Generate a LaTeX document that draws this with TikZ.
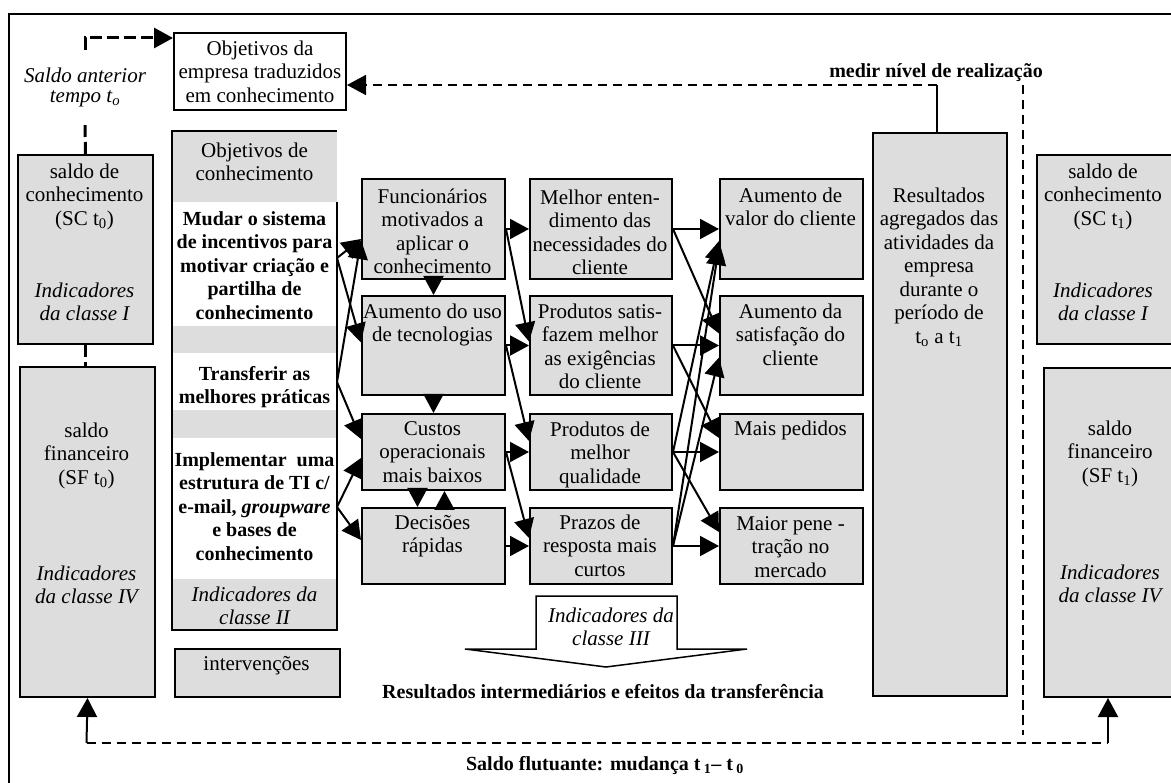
\documentclass[tikz,border=0pt]{standalone}
\usepackage{fontspec}
\setmainfont{Liberation Serif}
\usetikzlibrary{arrows.meta}
\definecolor{boxgray}{RGB}{221,221,221}
\newcommand\rg{\fontsize{21}{23.5}\selectfont}
\newcommand\bd{\fontsize{20}{23.5}\selectfont\bfseries}
\newcommand\itl{\fontsize{21}{23.5}\selectfont\itshape}

\begin{document}
\begin{tikzpicture}[x=1pt,y=-1pt,
  gbox/.style={draw, line width=2pt, fill=boxgray, anchor=north west, inner sep=0pt},
  txt/.style={anchor=north, inner sep=0pt, align=center, yshift=16.45pt, font=\rg},
  itxt/.style={txt, font=\itl},
  btxt/.style={txt, font=\bd},
  tip/.style={-{Triangle[length=19pt,width=20pt]}},
  conn/.style={line width=2pt, tip},
  dsh/.style={line width=1.6pt, dash pattern=on 9.5pt off 5.5pt},
  dthick/.style={line width=3pt, dash pattern=on 12pt off 5pt},
]
\useasboundingbox (0,0) rectangle (1171,783);
\clip (0,0) rectangle (1171,783);
\fill[white] (0,0) rectangle (1171,783);

% outer frame
\draw[line width=2pt] (9,14) rectangle (1200,820);

% goals of the company
\node[draw, line width=2pt, fill=white, anchor=north west, inner sep=0pt,
      minimum width=172pt, minimum height=77pt, align=center, font=\rg]
      (Top) at (173,32) {Objetivos da\\empresa traduzidos\\em conhecimento};

% left balances
\node[gbox, minimum width=135pt, minimum height=189pt] (SCL) at (17,154) {};
\node[txt] at (84.5,178) {\strut saldo de\\conhecimento\\(SC t\textsubscript{0})};
\node[itxt] at (84.5,297) {\strut Indicadores\\da classe I};
\node[gbox, minimum width=135pt, minimum height=330pt] (SFL) at (19,366) {};
\node[txt] at (86.5,437) {\strut saldo\\financeiro\\(SF t\textsubscript{0})};
\node[itxt] at (86.5,580) {\strut Indicadores\\da classe IV};

% previous balance label and link to the goals
\node[font=\fontsize{21}{19.5}\selectfont\itshape, align=center, inner sep=0pt,
      minimum height=75pt] (sa) at (85,87.5) {Saldo anterior\\tempo t\textsubscript{o}};
\draw[dthick] (SCL.north) -- (sa.south);
\draw[dthick, tip] (sa.north) |- ([yshift=-6pt]Top.north west);
\draw[dthick] (SCL.south) -- (SCL.south |- SFL.north);

% knowledge goals column
\fill[boxgray] (172,131) rectangle (337,202);
\fill[boxgray] (172,326) rectangle (337,353);
\fill[boxgray] (172,410) rectangle (337,438);
\fill[boxgray] (172,579) rectangle (337,630);
\node[anchor=north west, inner sep=0pt, minimum width=165pt, minimum height=499pt] (Obj) at (172,131) {};
\draw[line width=2pt] (Obj.north east |- 0,202) -- (Obj.south east) -- (Obj.south west)
      -- (Obj.north west) -- (Obj.north east);
\node[txt] at (254.5,157) {\strut Objetivos de\\conhecimento};
\node[btxt] at (254.5,225) {\strut Mudar o sistema\\de incentivos para\\motivar criação e\\partilha de\\conhecimento};
\node[btxt] at (254.5,380) {\strut Transferir as\\melhores práticas};
\node[btxt] at (254.5,466) {\strut Implementar\ \ uma\\estrutura de TI c/\\e-mail, \textit{groupware}\\e bases de\\conhecimento};
\node[itxt] at (254.5,601) {\strut Indicadores da\\classe II};
\coordinate (o1) at (337,258);
\coordinate (o2) at (337,382);
\coordinate (o3) at (337,507);

\node[gbox, minimum width=165pt, minimum height=48pt] (Int) at (174,648) {};
\node[txt] at (256.5,670) {\strut intervenções};

% first column of effects
\node[gbox, minimum width=143pt, minimum height=100pt] (F) at (361,178) {};
\node[gbox, minimum width=143pt, minimum height=99pt]  (A) at (361,295) {};
\node[gbox, minimum width=143pt, minimum height=76pt]  (C) at (361,413) {};
\node[gbox, minimum width=143pt, minimum height=76pt]  (D) at (361,507) {};
\node[txt] at (432.5,203) {\strut Funcionários\\motivados a\\aplicar o\\conhecimento};
\node[txt] at (432.5,318) {\strut Aumento do uso\\de tecnologias};
\node[txt] at (432.5,435) {\strut Custos\\operacionais\\mais baixos};
\node[txt] at (432.5,529) {\strut Decisões\\rápidas};

% second column of effects
\node[gbox, minimum width=142pt, minimum height=100pt] (M)  at (529,178) {};
\node[gbox, minimum width=142pt, minimum height=99pt]  (P)  at (529,295) {};
\node[gbox, minimum width=142pt, minimum height=76pt]  (Q)  at (529,413) {};
\node[gbox, minimum width=142pt, minimum height=76pt]  (Pr) at (529,507) {};
\node[txt] at (600,204) {\strut Melhor enten-\\dimento das\\necessidades do\\cliente};
\node[txt] at (600,318) {\strut Produtos satis-\\fazem melhor\\as exigências\\do cliente};
\node[txt] at (600,436) {\strut Produtos de\\melhor\\qualidade};
\node[txt] at (600,529) {\strut Prazos de\\resposta mais\\curtos};

% third column of effects
\node[gbox, minimum width=143pt, minimum height=100pt] (V)   at (719,178) {};
\node[gbox, minimum width=143pt, minimum height=99pt]  (S)   at (719,295) {};
\node[gbox, minimum width=143pt, minimum height=76pt]  (MP)  at (719,413) {};
\node[gbox, minimum width=143pt, minimum height=76pt]  (Pen) at (719,507) {};
\node[txt] at (790.5,202) {\strut Aumento de\\valor do cliente};
\node[txt] at (790.5,318) {\strut Aumento da\\satisfação do\\cliente};
\node[txt] at (790.5,435) {\strut Mais pedidos};
\node[txt] at (790.5,530) {\strut Maior pene -\\tração no\\mercado};

% aggregated results
\node[gbox, minimum width=134pt, minimum height=563pt] (Res) at (872,132) {};
\node[txt] at (939,202) {\strut Resultados\\agregados das\\atividades da\\empresa\\durante o\\período de\\t\textsubscript{o} a t\textsubscript{1}};

% right balances
\node[gbox, minimum width=150pt, minimum height=189pt] (SCR) at (1036,154) {};
\node[txt] at (1103,178) {\strut saldo de\\conhecimento\\(SC t\textsubscript{1})};
\node[itxt] at (1103,297) {\strut Indicadores\\da classe I};
\node[gbox, minimum width=150pt, minimum height=329pt] (SFR) at (1043,367) {};
\node[txt] at (1110,435) {\strut saldo\\financeiro\\(SF t\textsubscript{1})};
\node[itxt] at (1110,579) {\strut Indicadores\\da classe IV};

% goals -> first column
\draw[conn] (o1) -- ([yshift=-10pt]F.west);
\draw[conn] (o1) -- ([yshift=3pt]A.west);
\draw[conn] (o2) -- ([yshift=-11pt]F.west);
\draw[conn] (o2) -- ([yshift=13pt]C.west);
\draw[conn] (o3) -- ([yshift=-6pt]C.west);
\draw[conn] (o3) -- ([yshift=6pt]D.west);

% within the first column
\draw[conn] (F.south) -- (A.north);
\draw[conn] (A.south) -- (C.north);
\draw[conn] ([xshift=-16pt]C.south) -- ([xshift=-16pt]D.north);
\draw[conn] ([xshift=11pt]D.north) -- ([xshift=11pt]C.south);

% first -> second column
\draw[conn] (F.east) -- (M.west);
\draw[conn] (F.east) -- ([yshift=4pt]P.west);
\draw[conn] (A.east) -- (P.west);
\draw[conn] (A.east) -- ([yshift=11pt]Q.west);
\draw[conn] (C.east) -- (Q.west);
\draw[conn] (C.east) -- ([yshift=8pt]Pr.west);
\draw[conn] (D.east) -- (Pr.west);

% second -> third column
\draw[conn] (M.east) -- (V.west);
\draw[conn] (M.east) -- ([yshift=12pt]S.west);
\draw[conn] (P.east) -- (S.west);
\draw[conn] (P.east) -- ([yshift=14pt]MP.west);
\draw[conn] (Q.east) -- (MP.west);
\draw[conn] (Q.east) -- ([yshift=-12pt]V.west);
\draw[conn] (Q.east) -- ([yshift=14pt]Pen.west);
\draw[conn] (Pr.east) -- (Pen.west);
\draw[conn] (Pr.east) -- ([yshift=-17pt]V.west);
\draw[conn] (Pr.east) -- ([yshift=-12pt]S.west);

% class III indicators arrow
\draw[line width=1.5pt, fill=white] (536,596) -- (677,596) -- (677,649) -- (747,649)
      -- (606,667) -- (465,649) -- (536,649) -- cycle;
\node[itxt] (c3) at (611,622) {\strut Indicadores da\\classe III};
\node[btxt] (ri) at (603,698) {\strut Resultados intermediários e efeitos da transferência};

% measuring the level of achievement
\node[btxt] (ml) at (936,77) {\strut medir nível de realização};
\draw[line width=2pt] ([xshift=-3pt]Res.north) -- ([xshift=-3pt]Res.north |- 0,85);
\draw[dsh, tip] ([xshift=-3pt]Res.north |- 0,85) -- (Top.east |- 0,85);
\coordinate (mt) at (1023,85);
\coordinate (mb) at (1023,735);
\draw[dsh] (mt) -- (mb);

% floating balance
\coordinate (bl) at (86.5,743);
\coordinate (br) at (1108,743);
\draw[conn] (bl) -- (SFL.south);
\draw[dsh] (bl) -- (br);
\draw[conn] (br) -- (br |- SFR.south);
\node[btxt] (sf) at (605,770) {\strut Saldo flutuante: mudança t\,\textsubscript{1}– t\,\textsubscript{0}};
\end{tikzpicture}
\end{document}
